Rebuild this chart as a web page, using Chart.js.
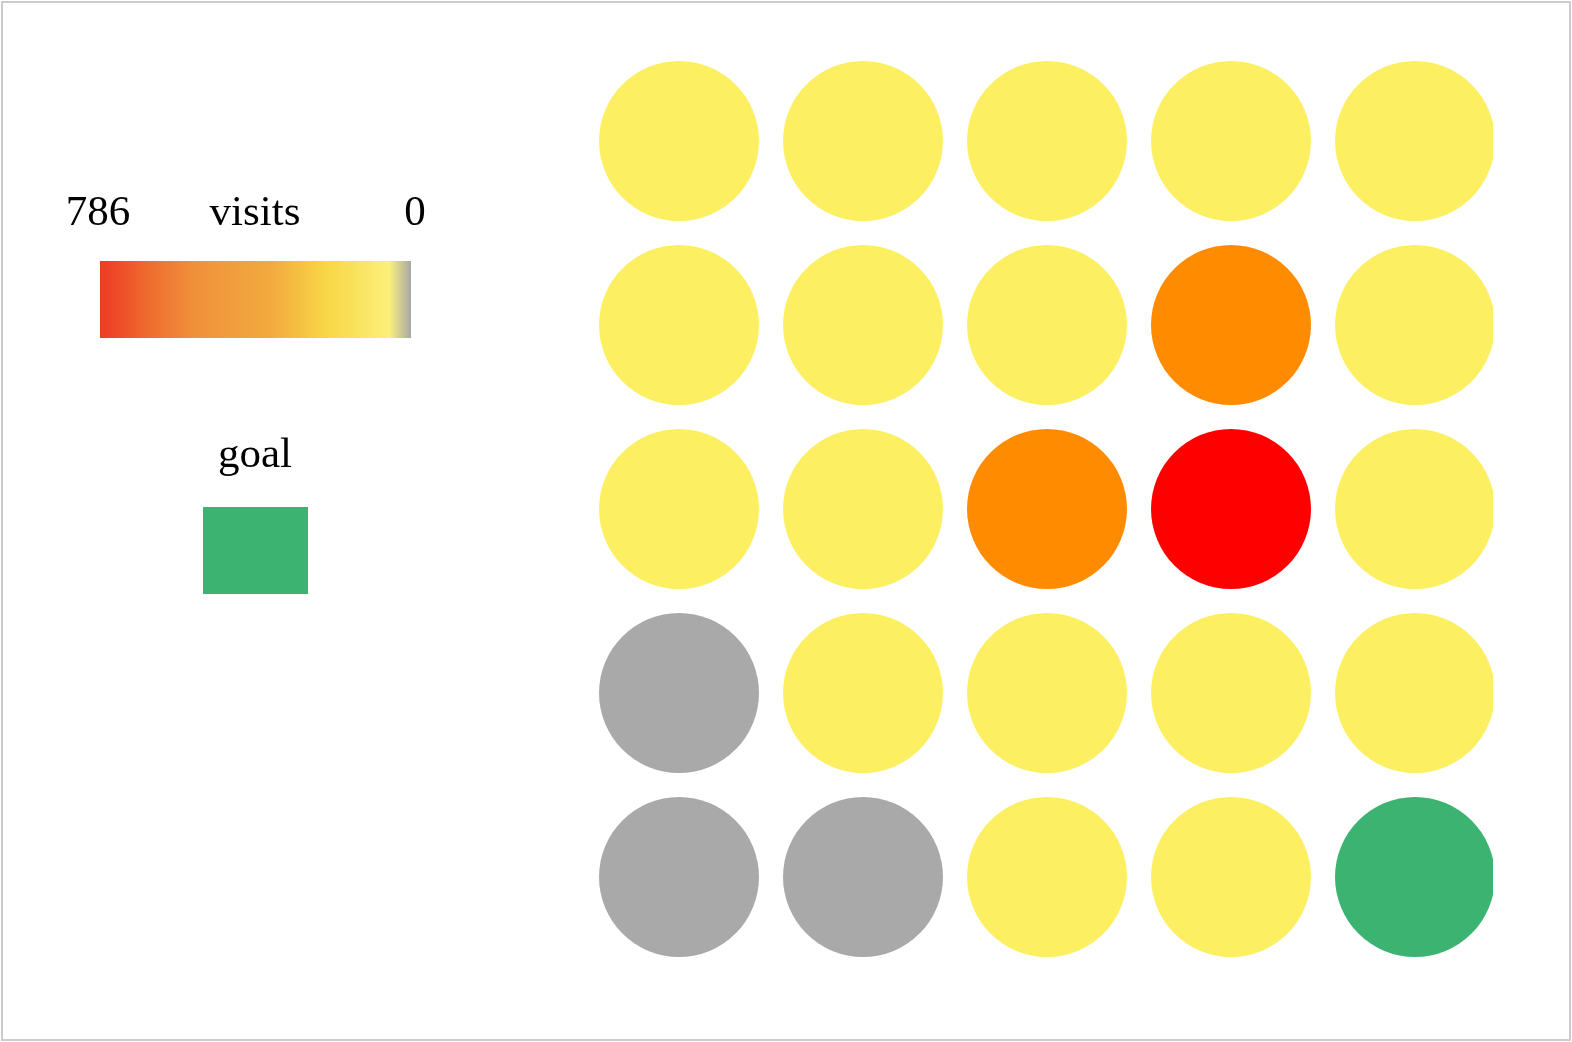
<!DOCTYPE html>
<html>
<head>
<meta charset="utf-8">
<script src="https://cdn.jsdelivr.net/npm/chart.js@4/dist/chart.umd.min.js"></script>
<style>
  html, body { margin: 0; padding: 0; background: #fff; }
  #wrap { position: absolute; left: 0; top: 0; width: 1572px; height: 1042px; }
</style>
</head>
<body>
<div id="wrap"><canvas id="grid_canvas"></canvas></div>
<script>
        // 5x5 grid, row by row from the top
        let cols = [0, 1, 2, 3, 4];
        let rows = [0, 1, 2, 3, 4];
        let visits = [
            40, 40, 40, 40, 40,
            40, 40, 40, 420, 40,
            40, 40, 420, 786, 40,
            0, 40, 40, 40, 40,
            0, 0, 40, 40, 40
        ];
        let goal_cell = 24;
        let legend_title = 'visits';
        let goal_label = 'goal';

        let max_visits = Math.max(...visits);

        function cellColor(v, i){
            if(i == goal_cell) return '#3cb371';
            if(v == 0) return '#a9a9a9';
            if(v >= max_visits) return '#ff0000';
            if(v >= 300) return '#ff8c00';
            return '#fcf062';
        }

        let points = [];
        let point_colors = [];
        visits.forEach((v, i)=>{
            points.push({x: cols[i % 5], y: rows[Math.floor(i / 5)]});
            point_colors.push(cellColor(v, i));
        });

        let legend_plugin = {
            id: 'legend_plugin',
            beforeDraw(chart){
                let ctx = chart.ctx;
                ctx.save();
                ctx.strokeStyle = '#cccccc';
                ctx.lineWidth = 2;
                ctx.strokeRect(2, 2, 1568, 1038);
                ctx.restore();
            },
            afterDraw(chart){
                let ctx = chart.ctx;
                ctx.save();
                ctx.fillStyle = '#000';
                ctx.font = '43px "Liberation Serif", "DejaVu Serif", serif';
                ctx.textAlign = 'center';
                ctx.textBaseline = 'alphabetic';
                ctx.fillText(String(max_visits), 98, 225);
                ctx.fillText(legend_title, 255, 225);
                ctx.fillText('0', 415, 225);

                let grad = ctx.createLinearGradient(100, 0, 411, 0);
                grad.addColorStop(0, '#ee3a24');
                grad.addColorStop(0.15, '#ee6a2e');
                grad.addColorStop(0.3, '#f0903a');
                grad.addColorStop(0.55, '#f2aa3e');
                grad.addColorStop(0.72, '#f8d545');
                grad.addColorStop(0.93, '#fbf07a');
                grad.addColorStop(1, '#a8a8a8');
                ctx.fillStyle = grad;
                ctx.fillRect(100, 261, 311, 77);

                ctx.fillStyle = '#000';
                ctx.fillText(goal_label, 255, 467);
                ctx.fillStyle = '#3cb371';
                ctx.fillRect(203, 507, 105, 87);
                ctx.restore();
            }
        };

        let grid_chart = new Chart(document.getElementById('grid_canvas'), {
            type: 'scatter',
            data: {
                datasets: [{
                    data: points,
                    pointRadius: 80,
                    pointHoverRadius: 80,
                    pointBackgroundColor: point_colors,
                    pointBorderWidth: 0,
                    pointBorderColor: 'rgba(0,0,0,0)',
                    clip: {left: 20, top: 20, right: -14, bottom: 20}
                }]
            },
            options: {
                responsive: true,
                maintainAspectRatio: false,
                animation: false,
                events: [],
                layout: {
                    autoPadding: false,
                    padding: {left: 587, right: 65, top: 49, bottom: 73}
                },
                plugins: {
                    legend: {display: false},
                    tooltip: {enabled: false}
                },
                scales: {
                    x: {type: 'linear', min: -0.5, max: 4.5, display: false},
                    y: {type: 'linear', min: -0.5, max: 4.5, reverse: true, display: false}
                }
            },
            plugins: [legend_plugin]
        });
</script>
</body>
</html>
